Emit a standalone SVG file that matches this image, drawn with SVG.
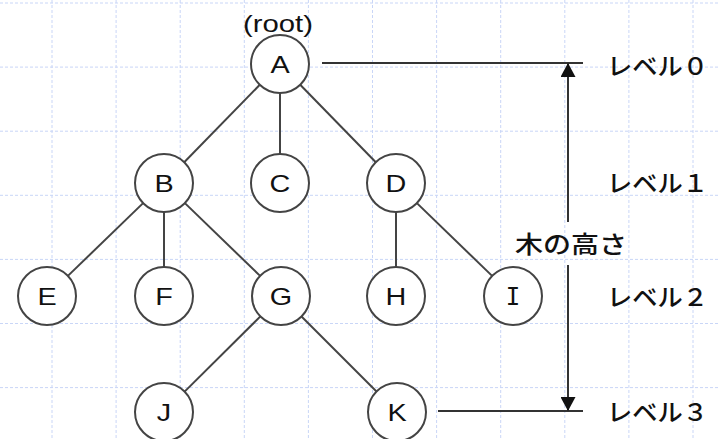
<svg xmlns="http://www.w3.org/2000/svg" width="719" height="439" viewBox="0 0 719 439">
  <style>
    .grid line { stroke: #c9d6f7; stroke-width: 1; stroke-dasharray: 3 2; }
    .node circle { fill: #ffffff; stroke: #444444; stroke-width: 2; }
    .node text { font-family: "Liberation Sans", Arial, sans-serif; font-size: 24px; fill: #111111; text-anchor: middle; }
    .edge { stroke: #444444; stroke-width: 2; fill: none; }
    .guide { stroke: #333333; stroke-width: 2; fill: none; }
    .label { font-family: "Noto Sans CJK JP", sans-serif; font-size: 24px; font-weight: 500; fill: #111111; }
    .latin { font-family: "Liberation Sans", Arial, sans-serif; fill: #111111; }
  </style>
  <defs>
    <marker id="arrow" viewBox="0 0 14 15" refX="14" refY="7.5" markerWidth="14" markerHeight="15" markerUnits="userSpaceOnUse" orient="auto">
      <path d="M0,0 L14,7.5 L0,15 z" fill="#111111"/>
    </marker>
  </defs>

  <rect width="719" height="439" fill="#ffffff"/>

  <!-- background grid -->
  <g class="grid">
    <line x1="52" y1="0" x2="52" y2="439"/>
    <line x1="116.1" y1="0" x2="116.1" y2="439"/>
    <line x1="180.2" y1="0" x2="180.2" y2="439"/>
    <line x1="244.3" y1="0" x2="244.3" y2="439"/>
    <line x1="308.4" y1="0" x2="308.4" y2="439"/>
    <line x1="372.5" y1="0" x2="372.5" y2="439"/>
    <line x1="436.6" y1="0" x2="436.6" y2="439"/>
    <line x1="500.7" y1="0" x2="500.7" y2="439"/>
    <line x1="564.8" y1="0" x2="564.8" y2="439"/>
    <line x1="628.9" y1="0" x2="628.9" y2="439"/>
    <line x1="693" y1="0" x2="693" y2="439"/>
    <line x1="0" y1="3" x2="719" y2="3"/>
    <line x1="0" y1="67.1" x2="719" y2="67.1"/>
    <line x1="0" y1="131.2" x2="719" y2="131.2"/>
    <line x1="0" y1="195.3" x2="719" y2="195.3"/>
    <line x1="0" y1="259.4" x2="719" y2="259.4"/>
    <line x1="0" y1="323.5" x2="719" y2="323.5"/>
    <line x1="0" y1="387.6" x2="719" y2="387.6"/>
  </g>

  <!-- tree edges and height guides -->
  <g id="connectors">
    <line class="edge" x1="259.8" y1="84.8" x2="184.2" y2="162.2"/>
    <line class="edge" x1="280" y1="93" x2="280" y2="154"/>
    <line class="edge" x1="300.2" y1="84.8" x2="375.8" y2="162.2"/>
    <line class="edge" x1="143.1" y1="203.1" x2="67.9" y2="275.9"/>
    <line class="edge" x1="164" y1="212" x2="164" y2="267"/>
    <line class="edge" x1="184.9" y1="203.1" x2="260.1" y2="275.9"/>
    <line class="edge" x1="396" y1="212" x2="396" y2="267"/>
    <line class="edge" x1="416.9" y1="203.1" x2="492.1" y2="275.9"/>
    <line class="edge" x1="260.4" y1="316.4" x2="184.6" y2="391.6"/>
    <line class="edge" x1="301.5" y1="316.5" x2="376.5" y2="391.5"/>

    <line class="guide" x1="322" y1="63" x2="583" y2="63"/>
    <line class="guide" x1="438" y1="411" x2="583" y2="411"/>
    <line class="guide" x1="568" y1="222" x2="568" y2="63" marker-end="url(#arrow)"/>
    <line class="guide" x1="568" y1="265" x2="568" y2="411" marker-end="url(#arrow)"/>
  </g>

  <!-- nodes -->
  <g id="node-A" class="node" transform="translate(280,64)">
    <circle r="29"/>
    <text transform="scale(1.2,1)" y="8.6">A</text>
  </g>
  <g id="node-B" class="node" transform="translate(164,183)">
    <circle r="29"/>
    <text transform="scale(1.2,1)" y="8.6">B</text>
  </g>
  <g id="node-C" class="node" transform="translate(280,183)">
    <circle r="29"/>
    <text transform="scale(1.2,1)" y="8.6">C</text>
  </g>
  <g id="node-D" class="node" transform="translate(396,183)">
    <circle r="29"/>
    <text transform="scale(1.2,1)" y="8.6">D</text>
  </g>
  <g id="node-E" class="node" transform="translate(47,296)">
    <circle r="29"/>
    <text transform="scale(1.2,1)" y="8.6">E</text>
  </g>
  <g id="node-F" class="node" transform="translate(164,296)">
    <circle r="29"/>
    <text transform="scale(1.2,1)" y="8.6">F</text>
  </g>
  <g id="node-G" class="node" transform="translate(281,296)">
    <circle r="29"/>
    <text transform="scale(1.2,1)" y="8.6">G</text>
  </g>
  <g id="node-H" class="node" transform="translate(396,296)">
    <circle r="29"/>
    <text transform="scale(1.2,1)" y="8.6">H</text>
  </g>
  <g id="node-I" class="node" transform="translate(513,296)">
    <circle r="29"/>
    <text y="8.6" style="font-family: 'DejaVu Sans Mono', monospace;">I</text>
  </g>
  <g id="node-J" class="node" transform="translate(164,412)">
    <circle r="29"/>
    <text transform="scale(1.2,1)" y="8.6">J</text>
  </g>
  <g id="node-K" class="node" transform="translate(397,412)">
    <circle r="29"/>
    <text transform="scale(1.2,1)" y="8.6">K</text>
  </g>

  <!-- labels -->
  <g id="labels">
    <text class="latin" x="243" y="32" font-size="24" textLength="70" lengthAdjust="spacingAndGlyphs">(root)</text>
    <text class="label" x="515" y="253" font-size="26" textLength="112" lengthAdjust="spacingAndGlyphs">木の高さ</text>
    <text class="label" x="607" y="75" textLength="101" lengthAdjust="spacingAndGlyphs">レベル０</text>
    <text class="label" x="607" y="192" textLength="101" lengthAdjust="spacingAndGlyphs">レベル１</text>
    <text class="label" x="607" y="306" textLength="101" lengthAdjust="spacingAndGlyphs">レベル２</text>
    <text class="label" x="607" y="421" textLength="101" lengthAdjust="spacingAndGlyphs">レベル３</text>
  </g>
</svg>
